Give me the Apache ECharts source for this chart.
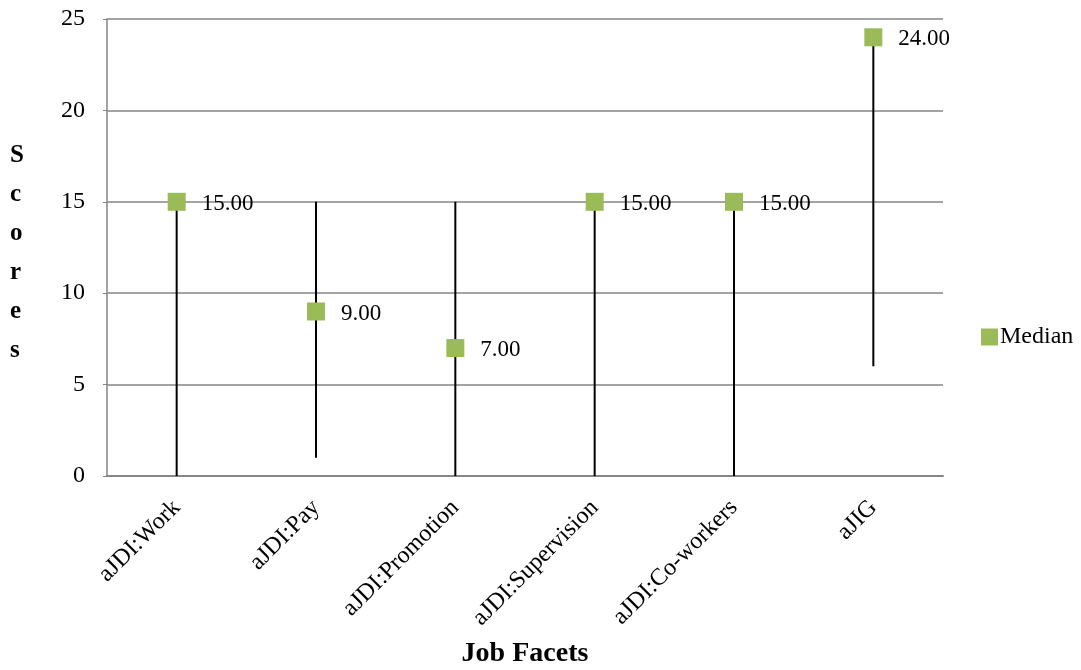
<!DOCTYPE html>
<html>
<head>
<meta charset="utf-8">
<script src="https://cdn.jsdelivr.net/npm/echarts@6/dist/echarts.min.js"></script>
<style>
  html, body { margin: 0; padding: 0; background: #fff; }
  #chart { width: 1081px; height: 670px; }
</style>
</head>
<body>
<div id="chart"></div>
<script>
const categories = ["aJDI:Work", "aJDI:Pay", "aJDI:Promotion", "aJDI:Supervision", "aJDI:Co-workers", "aJIG"];
const highs = [15, 15, 15, 15, 15, 24];
const lows = [0, 1, 0, 0, 0, 6];
const medians = [15, 9, 7, 15, 15, 24];
const yTicks = { min: 0, max: 25, interval: 5 };

const chart = echarts.init(document.getElementById("chart"));
const font = "'Liberation Serif', 'Times New Roman', serif";

const rangeData = categories.map((c, i) => [i, lows[i], highs[i]]);

const options = {
  animation: false,
  textStyle: { fontFamily: font, color: "#000" },
  grid: { left: 107, right: 138, top: 19, bottom: 194, containLabel: false, outerBoundsMode: "none" },
  legend: {
    data: ["Median"],
    left: 976,
    top: 320,
    itemWidth: 17,
    itemHeight: 17,
    itemGap: 6,
    icon: "rect",
    textStyle: { fontFamily: font, fontSize: 24, color: "#000", padding: [0, 0, 0, -3] }
  },
  xAxis: {
    type: "category",
    data: categories,
    boundaryGap: true,
    name: "Job Facets",
    nameLocation: "middle",
    nameGap: 164,
    nameTextStyle: { fontFamily: font, fontSize: 28, fontWeight: "bold", color: "#000" },
    axisLine: { lineStyle: { color: "#868686", width: 2 } },
    axisTick: { show: false },
    axisLabel: { rotate: 45, margin: 28, fontSize: 24, color: "#000", fontFamily: font, interval: 0 }
  },
  yAxis: {
    type: "value",
    min: yTicks.min,
    max: yTicks.max,
    interval: yTicks.interval,
    axisLine: { show: true, lineStyle: { color: "#868686", width: 1.5 } },
    axisTick: { show: true, length: 4, lineStyle: { color: "#868686" } },
    axisLabel: { fontSize: 24, color: "#000", fontFamily: font, margin: 22 },
    splitLine: { lineStyle: { color: "#868686", width: 1.5 } }
  },
  graphic: [
    {
      type: "text",
      left: 10,
      top: 136,
      style: {
        text: "S\nc\no\nr\ne\ns",
        font: "bold 25px " + font,
        lineHeight: 39,
        fill: "#000",
        align: "center"
      }
    }
  ],
  series: [
    {
      name: "Range",
      type: "custom",
      data: rangeData,
      z: 2,
      renderItem: function (params, api) {
        const lo = api.coord([api.value(0), api.value(1)]);
        const hi = api.coord([api.value(0), api.value(2)]);
        return {
          type: "line",
          shape: { x1: lo[0], y1: lo[1], x2: hi[0], y2: hi[1] },
          style: { stroke: "#000", lineWidth: 2 }
        };
      },
      encode: { x: 0, y: [1, 2] }
    },
    {
      name: "Median",
      type: "scatter",
      data: medians,
      symbol: "rect",
      symbolSize: 18,
      z: 3,
      itemStyle: { color: "#9BBB59", opacity: 1 },
      label: {
        show: true,
        position: "right",
        distance: 16,
        offset: [0, 2],
        fontSize: 23,
        fontFamily: font,
        color: "#000",
        formatter: function (p) { return p.value.toFixed(2); }
      }
    }
  ]
};

chart.setOption(options);
</script>
</body>
</html>
